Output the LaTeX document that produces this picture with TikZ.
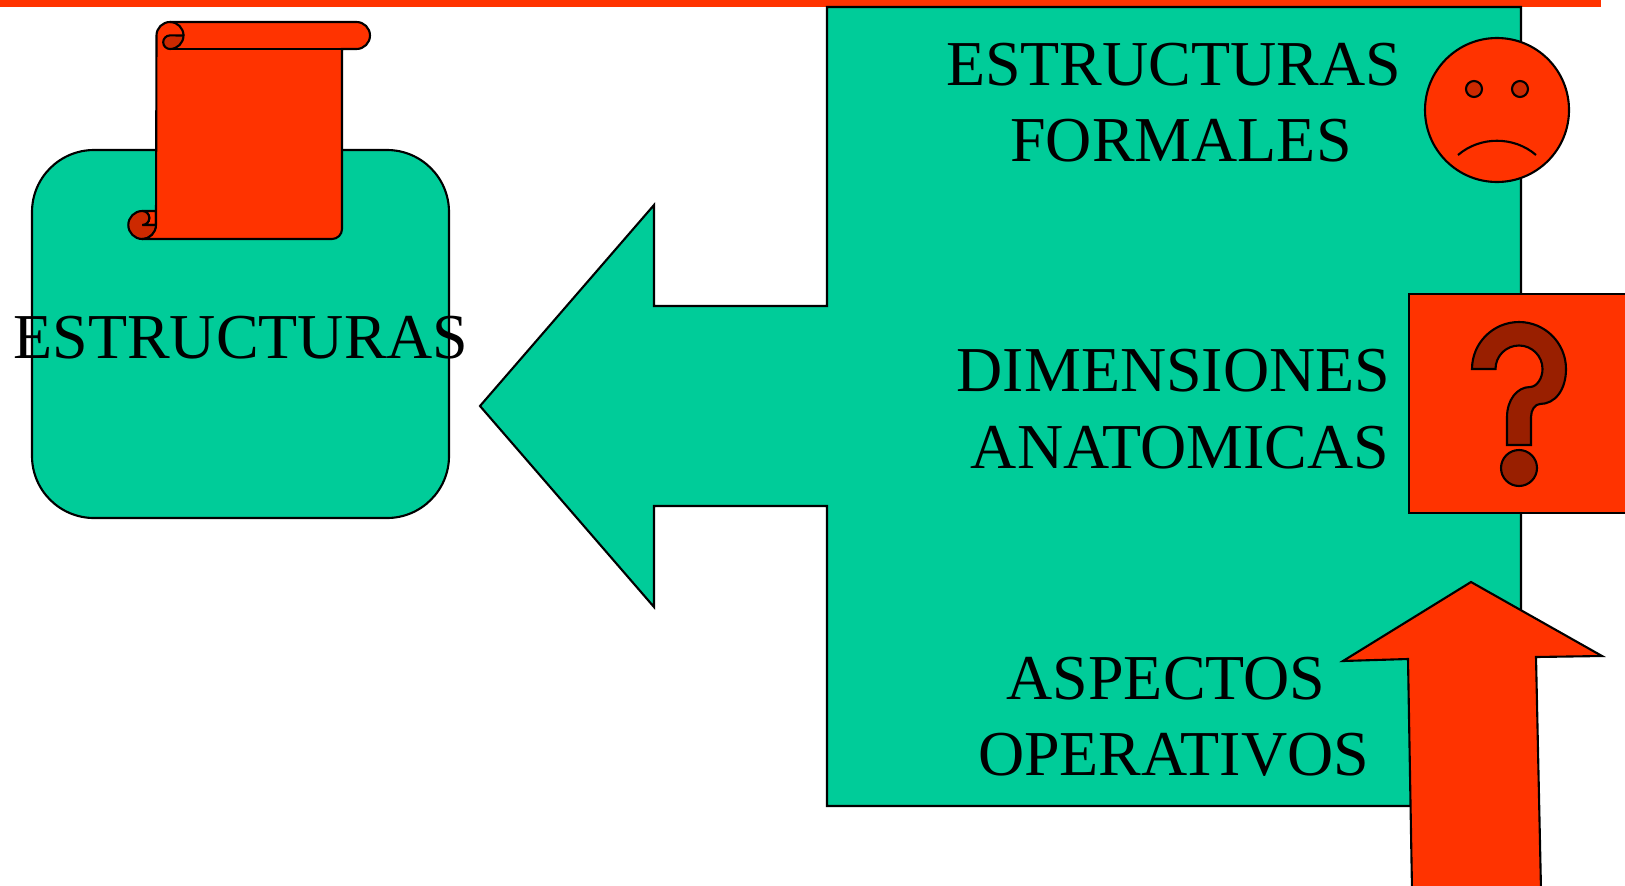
\documentclass[tikz,border=0pt]{standalone}
\usepackage{fontspec}
\setmainfont{Liberation Serif}

\definecolor{shapegreen}{HTML}{00CC99}
\definecolor{shapered}{HTML}{FF3300}
\definecolor{shapemid}{HTML}{CC2900}
\definecolor{shapedark}{HTML}{991F00}

\tikzset{
    outline/.style={line width=0.6pt},
    greenshape/.style={outline, draw=black, fill=shapegreen},
    redshape/.style={outline, draw=black, fill=shapered},
    midshape/.style={outline, draw=black, fill=shapemid},
    darkshape/.style={outline, draw=black, fill=shapedark},
    labeltext/.style={align=center, inner sep=0pt, font=\fontsize{18.2}{21.7}\selectfont}
}

\begin{document}
\begin{tikzpicture}

    \clip (0, 0) rectangle (16.25, 8.85);

    % Top bar
    \fill[shapered] (0, 8.78) rectangle (16.01, 8.85);

    % Rounded box
    \draw[greenshape, rounded corners=0.62cm] (0.32, 3.67) rectangle (4.49, 7.35);

    % Scroll, lower curl
    \draw[redshape] (1.423, 6.74) -- (1.56, 6.74) -- (1.56, 6.60) -- (1.423, 6.60) arc[start angle=-90, end angle=90, radius=0.07];
    \draw[midshape] (1.56, 6.60) -- (1.423, 6.60) arc[start angle=-90, end angle=90, radius=0.07] arc[start angle=90, end angle=270, radius=0.14] arc[start angle=-90, end angle=0, radius=0.14];

    % Scroll, sheet
    \draw[redshape] (1.565, 8.495) arc[start angle=180, end angle=90, radius=0.135] -- (3.565, 8.63) arc[start angle=90, end angle=-90, radius=0.135] -- (3.42, 8.36) -- (3.42, 6.56) arc[start angle=0, end angle=-90, radius=0.1] -- (1.42, 6.46) arc[start angle=-90, end angle=0, radius=0.14] -- cycle;
    \draw[outline] (3.42, 8.36) -- (1.70, 8.36);

    % Scroll, upper curl
    \draw[midshape] (1.835, 8.495) arc[start angle=0, end angle=-90, radius=0.135] arc[start angle=270, end angle=90, radius=0.068] -- cycle;
    \draw[outline] (1.70, 8.63) arc[start angle=90, end angle=0, radius=0.135];

    % Big arrow
    \draw[greenshape] (8.27, 8.78) -- (15.21, 8.78) -- (15.21, 0.79) -- (8.27, 0.79) -- (8.27, 3.79) -- (6.54, 3.79) -- (6.54, 2.78) -- (4.80, 4.79) -- (6.54, 6.80) -- (6.54, 5.79) -- (8.27, 5.79) -- cycle;

    % Labels
    \node[labeltext] (estructuras) at (2.41, 5.475) {ESTRUCTURAS};
    \node[labeltext] (formales) at (11.735, 7.825) {ESTRUCTURAS\\\hspace*{0.15cm}FORMALES};
    \node[labeltext] (anatomicas) at (11.735, 4.76) {DIMENSIONES\\\hspace*{0.13cm}ANATOMICAS};
    \node[labeltext] (operativos) at (11.735, 1.68) {ASPECTOS\hspace*{0.15cm}\\OPERATIVOS};

    % Sad face
    \draw[redshape] (14.97, 7.75) circle [radius=0.72];
    \draw[midshape] (14.74, 7.96) circle [radius=0.08];
    \draw[midshape] (15.20, 7.96) circle [radius=0.08];
    \draw[outline] (14.58, 7.30) .. controls (14.80, 7.49) and (15.14, 7.49) .. (15.36, 7.30);

    % Question box
    \draw[redshape] (14.09, 3.72) rectangle (16.40, 5.91);
    \draw[darkshape] (14.72, 5.16) arc[start angle=180, end angle=0, radius=0.47] .. controls (15.66, 4.95) and (15.55, 4.81) .. (15.40, 4.81) .. controls (15.35, 4.81) and (15.31, 4.75) .. (15.31, 4.68) -- (15.31, 4.40) -- (15.07, 4.40) -- (15.07, 4.68) .. controls (15.07, 4.85) and (15.17, 4.98) .. (15.30, 4.98) .. controls (15.37, 4.98) and (15.425, 5.07) .. (15.425, 5.16) arc[start angle=0, end angle=180, radius=0.235] -- cycle;
    \draw[darkshape] (15.19, 4.17) circle [radius=0.18];

    % Up arrow
    \draw[redshape] (14.71, 3.03) -- (16.02, 2.29) -- (15.36, 2.28) -- (15.41, -0.05) -- (14.12, -0.05) -- (14.08, 2.26) -- (13.43, 2.24) -- cycle;

\end{tikzpicture}
\end{document}
